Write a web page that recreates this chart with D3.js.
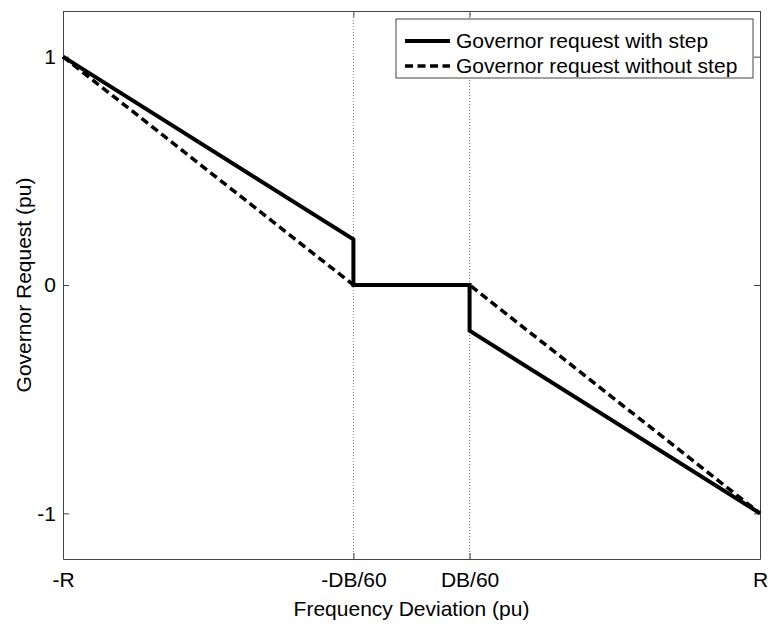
<!DOCTYPE html>
<html>
<head>
<meta charset="utf-8">
<script src="https://cdn.jsdelivr.net/npm/d3@7"></script>
<style>
  body { margin: 0; background: #fff; }
  svg { display: block; font-family: "Liberation Sans", Arial, sans-serif; }
</style>
</head>
<body>
<svg width="768" height="624"></svg>
<script>
// x positions: -R, -DB/60, DB/60, R  (R normalised to 1)
var xTickVals = [-1, -1 / 6, 1 / 6, 1];
var xTickLabels = ["-R", "-DB/60", "DB/60", "R"];
var yTickVals = [-1, 0, 1];
var yTickLabels = ["-1", "0", "1"];

var withStepX = [-1, -1 / 6, -1 / 6, 1 / 6, 1 / 6, 1];
var withStepY = [1, 0.2, 0, 0, -0.2, -1];
var noStepX = [-1, -1 / 6, 1 / 6, 1];
var noStepY = [1, 0, 0, -1];

var seriesNames = ["Governor request with step", "Governor request without step"];

var svg = d3.select("svg");
var margin = { left: 63, top: 11, right: 8, bottom: 65 };
var width = 768 - margin.left - margin.right;
var height = 624 - margin.top - margin.bottom;

var x = d3.scaleLinear().domain([-1, 1]).range([0, width]);
var y = d3.scaleLinear().domain([-1.2, 1.2]).range([height, 0]);

var g = svg.append("g").attr("transform", "translate(" + margin.left + "," + margin.top + ")");

// dotted guide lines at the dead band
g.selectAll("line.guide")
    .data(xTickVals.slice(1, 3))
    .enter()
    .append("line")
    .attr("class", "guide")
    .attr("x1", (d) => x(d)).attr("x2", (d) => x(d))
    .attr("y1", 0).attr("y2", height)
    .attr("stroke", "#777")
    .attr("stroke-width", 1)
    .attr("stroke-dasharray", "1,2");

// axes (ticks inside, like matlab)
var tickFont = "21px";
var bottomAxis = g.append("g")
    .attr("transform", "translate(0," + height + ")")
    .call(d3.axisBottom(x).tickValues(xTickVals).tickFormat((d, i) => xTickLabels[i]).tickSizeInner(-6).tickSizeOuter(0).tickPadding(13));
var topAxis = g.append("g")
    .call(d3.axisTop(x).tickValues(xTickVals).tickFormat("").tickSizeInner(-6).tickSizeOuter(0));
var leftAxis = g.append("g")
    .call(d3.axisLeft(y).tickValues(yTickVals).tickFormat((d, i) => yTickLabels[i]).tickSizeInner(-6).tickSizeOuter(0).tickPadding(7));
var rightAxis = g.append("g")
    .attr("transform", "translate(" + width + ",0)")
    .call(d3.axisRight(y).tickValues(yTickVals).tickFormat("").tickSizeInner(-6).tickSizeOuter(0));

[bottomAxis, topAxis, leftAxis, rightAxis].forEach(function (a) {
    a.select(".domain").attr("stroke", "#444");
    a.selectAll(".tick line").attr("stroke", "#444");
    a.selectAll("text").attr("fill", "#000").style("font-size", tickFont).style("font-family", "Liberation Sans, Arial, sans-serif");
});

// data lines
var line = d3.line().x((d) => x(d[0])).y((d) => y(d[1]));

g.append("path")
    .datum(d3.zip(noStepX, noStepY))
    .attr("d", line)
    .attr("fill", "none")
    .attr("stroke", "#000")
    .attr("stroke-width", 3.5)
    .attr("stroke-dasharray", "8,4.5");

g.append("path")
    .datum(d3.zip(withStepX, withStepY))
    .attr("d", line)
    .attr("fill", "none")
    .attr("stroke", "#000")
    .attr("stroke-width", 4);

// axis labels
svg.append("text")
    .attr("x", margin.left + width / 2)
    .attr("y", 616)
    .attr("text-anchor", "middle")
    .style("font-size", "21px")
    .text("Frequency Deviation (pu)");

svg.append("text")
    .attr("transform", "translate(31," + (margin.top + height / 2) + ") rotate(-90)")
    .attr("text-anchor", "middle")
    .style("font-size", "21px")
    .text("Governor Request (pu)");

// legend
var legend = svg.append("g").attr("transform", "translate(396,19)");
legend.append("rect")
    .attr("width", 357).attr("height", 59)
    .attr("fill", "#fff")
    .attr("stroke", "#444")
    .attr("stroke-width", 1);

var rows = legend.selectAll("g.row")
    .data(seriesNames)
    .enter()
    .append("g")
    .attr("class", "row")
    .attr("transform", (d, i) => "translate(0," + (22 + i * 25) + ")");

rows.append("line")
    .attr("x1", 9).attr("x2", 54)
    .attr("stroke", "#000")
    .attr("stroke-width", (d, i) => i === 0 ? 4 : 3.5)
    .attr("stroke-dasharray", (d, i) => i === 0 ? null : "8,4.5");

rows.append("text")
    .attr("x", 60)
    .attr("dy", "0.35em")
    .style("font-size", "21px")
    .text((d) => d);
</script>
</body>
</html>
